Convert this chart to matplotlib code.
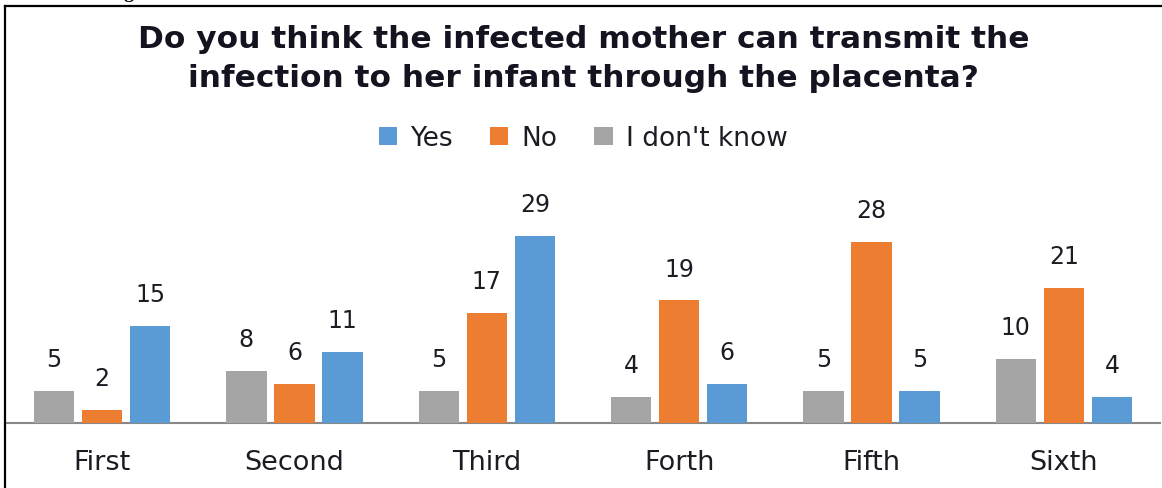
import matplotlib
matplotlib.use("Agg")
import matplotlib.pyplot as plt
import numpy as np
from matplotlib.lines import Line2D

categories = ["First", "Second", "Third", "Forth", "Fifth", "Sixth"]
series_names = ["I don't know", "No", "Yes"]
dont_know = [5, 8, 5, 4, 5, 10]
no_vals = [2, 6, 17, 19, 28, 21]
yes_vals = [15, 11, 29, 6, 5, 4]
colors = {"Yes": "#5B9BD5", "No": "#ED7D31", "I don't know": "#A5A5A5"}

title = "Do you think the infected mother can transmit the\ninfection to her infant through the placenta?"

W, H = 1162, 489
fig = plt.figure(figsize=(W / 100, H / 100), dpi=100)
fig.patch.set_facecolor("white")

ax_left = 6 / W
ax_right = 1160 / W
ax_bottom = (H - 424) / H
ymax = 30
ax_top = (H - (424 - ymax * 6.45)) / H
ax = fig.add_axes([ax_left, ax_bottom, ax_right - ax_left, ax_top - ax_bottom])

font = "DejaVu Sans"
txt_color = "#1c1c24"
x = np.arange(len(categories))
width = 0.21
step = 0.25
data = {"I don't know": dont_know, "No": no_vals, "Yes": yes_vals}
bars = {}
for i, name in enumerate(series_names):
    vals = data[name]
    b = ax.bar(x + (i - 1) * step, vals, width, color=colors[name], label=name, zorder=3)
    bars[name] = b
    for xi, v in zip(x + (i - 1) * step, vals):
        ax.annotate(str(v), (xi, v), xytext=(0, 23), textcoords="offset points",
                    ha="center", va="center", fontsize=17, color=txt_color,
                    family=font)

ax.set_xlim(-0.5, len(categories) - 0.5)
ax.set_ylim(0, ymax)
ax.set_yticks([])
ax.set_xticks(x)
ax.set_xticklabels(categories, fontsize=19.5, family=font, color=txt_color)
ax.tick_params(axis="x", length=0, pad=19)
for s in ["top", "right", "left"]:
    ax.spines[s].set_visible(False)
ax.spines["bottom"].set_color("#888888")
ax.spines["bottom"].set_linewidth(1.5)
ax.patch.set_alpha(0)

handles = [bars["Yes"], bars["No"], bars["I don't know"]]
labels = ["Yes", "No", "I don't know"]
fig.legend(handles, labels, loc="center", bbox_to_anchor=(0.502, (H - 139) / H),
           ncol=3, frameon=False, prop={"family": font, "size": 19},
           handlelength=0.7, handleheight=0.7, handletextpad=0.5, columnspacing=1.4,
           labelcolor=txt_color)

fig.text(0.502, (H - 59) / H, title, ha="center", va="center", fontsize=22.5,
         fontweight="bold", family=font, color="#141420", linespacing=1.45)

# page frame and clipped caption fragment
fig.add_artist(Line2D([5 / W, 5 / W], [0, (H - 7) / H], color="black", lw=1.6,
                      transform=fig.transFigure))
fig.add_artist(Line2D([5 / W, 1], [(H - 7) / H, (H - 7) / H], color="black", lw=1.6,
                      transform=fig.transFigure))
fig.text(108 / W, (H + 2) / H, "Figure", ha="left", va="baseline", fontsize=14,
         fontweight="bold", family="Liberation Serif", color="black")

fig.savefig("out.png", dpi=100, facecolor="white")
